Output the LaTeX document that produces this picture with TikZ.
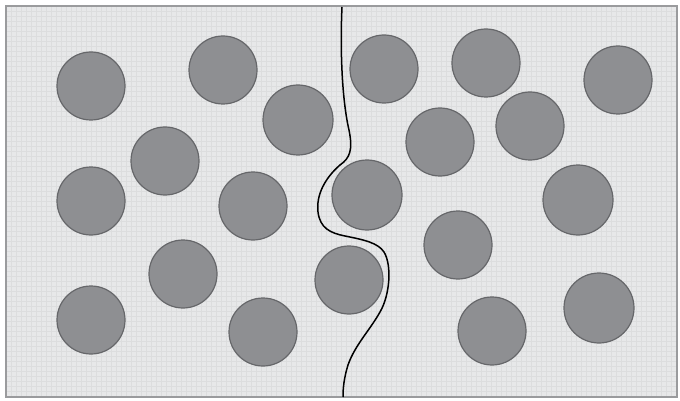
\documentclass[tikz,border=0pt]{standalone}
\usepackage{tikz}
\definecolor{bgfill}{HTML}{E7E8E9}
\definecolor{gridc}{HTML}{DCDDDE}
\definecolor{framec}{HTML}{9A9B9D}
\definecolor{grainfill}{HTML}{8E8F92}
\definecolor{grainedge}{HTML}{66676A}
\tikzset{
  grain/.style={circle, fill=grainfill, draw=grainedge, line width=1.2pt, minimum size=68pt, inner sep=0pt},
  bigrain/.style={grain, minimum size=70pt},
  crack/.style={black, line width=1.5pt},
  gridlines/.style={gridc, line width=0.3pt}
}
\begin{document}
\begin{tikzpicture}[x=1pt, y=-1pt]
\useasboundingbox (0,0) rectangle (680,401);
\fill[white] (0,0) rectangle (680,401);
\fill[bgfill] (6,6) rectangle (677,397);
\foreach \gx in {11,16,...,676} {\draw[gridlines] (\gx,6) -- (\gx,397);}
\foreach \gy in {11,16,...,396} {\draw[gridlines] (6,\gy) -- (677,\gy);}
\draw[framec, line width=1.5pt] (6,6) rectangle (677,397);
\draw[framec, line width=2.5pt] (5,6) -- (678,6);
% grains
\node[grain] (g1) at (91,86) {};
\node[grain] (g2) at (223,70) {};
\node[bigrain] (g3) at (298,120) {};
\node[grain] (g4) at (165,161) {};
\node[grain] (g5) at (91,201) {};
\node[grain] (g6) at (253,206) {};
\node[grain] (g7) at (183,274) {};
\node[grain] (g8) at (91,320) {};
\node[grain] (g9) at (263,332) {};
\node[grain] (g10) at (384,69) {};
\node[grain] (g11) at (486,63) {};
\node[grain] (g12) at (618,80) {};
\node[grain] (g13) at (440,142) {};
\node[grain] (g14) at (530,126) {};
\node[bigrain] (g15) at (367,195) {};
\node[bigrain] (g16) at (578,200) {};
\node[grain] (g17) at (458,245) {};
\node[grain] (g18) at (349,280) {};
\node[grain] (g19) at (492,331) {};
\node[bigrain] (g20) at (599,308) {};
% crack
\coordinate (ctop) at (342,7);
\coordinate (cbot) at (343,397);
\draw[crack] (ctop) .. controls (340,50) and (342,100) .. (349,130)
  .. controls (353,150) and (350,158) .. (340,165)
  .. controls (325,178) and (316,195) .. (318,212)
  .. controls (320,228) and (330,233) .. (345,236)
  .. controls (365,240) and (378,243) .. (384,252)
  .. controls (392,265) and (390,295) .. (380,312)
  .. controls (370,330) and (355,345) .. (348,365)
  .. controls (344,378) and (343,388) .. (cbot);
\end{tikzpicture}
\end{document}
